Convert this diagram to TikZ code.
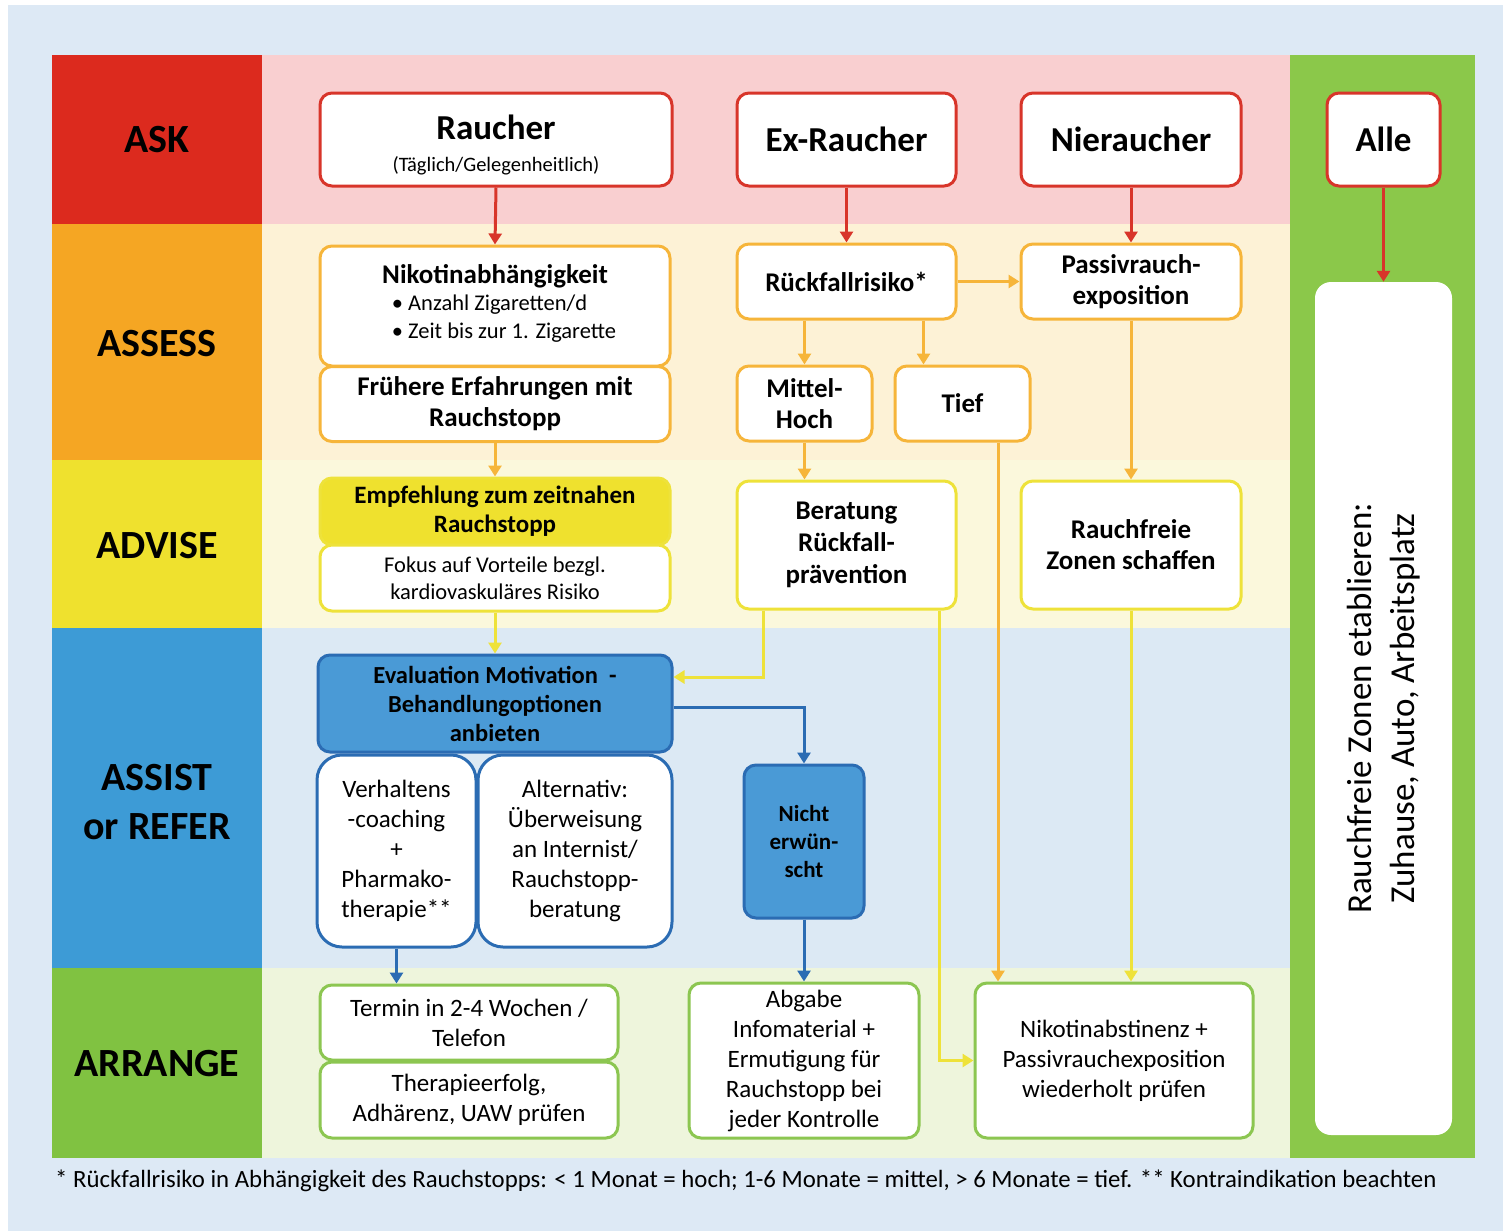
\documentclass[tikz,border=0pt]{standalone}
\usepackage{fontspec}
\setmainfont{Carlito}
\usetikzlibrary{arrows.meta}
\definecolor{bgblue}{HTML}{DDE9F5}
\definecolor{askred}{HTML}{DC2A1E}
\definecolor{askrow}{HTML}{F9CFD0}
\definecolor{assessor}{HTML}{F5A623}
\definecolor{assessrow}{HTML}{FDF2D6}
\definecolor{advisey}{HTML}{EFE12E}
\definecolor{adviserow}{HTML}{FBF8DC}
\definecolor{assistblue}{HTML}{3D9BD6}
\definecolor{assistrow}{HTML}{DCE9F4}
\definecolor{arrgreen}{HTML}{80C241}
\definecolor{arrrow}{HTML}{EEF5DC}
\definecolor{colgreen}{HTML}{8BC84A}
\definecolor{nred}{HTML}{D8352A}
\definecolor{norange}{HTML}{F6B53A}
\definecolor{nyellow}{HTML}{EEE23A}
\definecolor{nblue}{HTML}{4A9AD6}
\definecolor{nbluedark}{HTML}{2B6CB3}
\definecolor{ngreen}{HTML}{8CC651}
\tikzset{
  base/.style={draw, rounded corners=12pt, fill=white, line width=3pt, align=center, inner sep=2pt},
  rbox/.style={base, draw=nred},
  obox/.style={base, draw=norange},
  ybox/.style={base, draw=nyellow},
  bbox/.style={base, draw=nbluedark},
  gbox/.style={base, draw=ngreen},
  arr/.style={line width=3pt, -{Triangle[length=11pt,width=13pt]}},
  lab/.style={font=\fontsize{40}{49}\selectfont\bfseries, align=center},
  fb/.style={font=\fontsize{27}{31}\selectfont\bfseries},
  fr/.style={font=\fontsize{25}{30}\selectfont},
  ftitle/.style={font=\fontsize{35}{38}\selectfont\bfseries},
}
\begin{document}
\begin{tikzpicture}[x=1pt,y=-1pt]
\useasboundingbox (0,0) rectangle (1503,1231);
\fill[white] (0,0) rectangle (1503,1231);
\fill[bgblue] (8,5) rectangle (1503,1231);
% rows
\fill[askrow] (262,55) rectangle (1290,224);
\fill[assessrow] (262,224) rectangle (1290,460);
\fill[adviserow] (262,460) rectangle (1290,628);
\fill[assistrow] (262,628) rectangle (1290,968);
\fill[arrrow] (262,968) rectangle (1290,1158);
\fill[askred] (52,55) rectangle (262,224);
\fill[assessor] (52,224) rectangle (262,460);
\fill[advisey] (52,460) rectangle (262,628);
\fill[assistblue] (52,628) rectangle (262,968);
\fill[arrgreen] (52,968) rectangle (262,1158);
\fill[colgreen] (1290,55) rectangle (1475,1158);
% labels
\node[lab] (lask) at (157,140) {ASK};
\node[lab] (lassess) at (157,344) {ASSESS};
\node[lab] (ladvise) at (157,546) {ADVISE};
\node[lab] (lassist) at (157,802) {ASSIST\\or REFER};
\node[lab] (larrange) at (157,1064) {ARRANGE};
% ASK
\node[rbox, minimum width=352pt, minimum height=93pt, font=\fontsize{20.5}{24}\selectfont] (raucher) at (496,139.5) {\rule{0pt}{36pt}{\fontsize{35}{38}\selectfont\bfseries Raucher}\\[8pt](Täglich/Gelegenheitlich)};
\node[rbox, ftitle, minimum width=219pt, minimum height=93pt] (exr) at (846.5,139.5) {Ex-Raucher};
\node[rbox, ftitle, minimum width=220pt, minimum height=93pt] (nier) at (1131,139.5) {Nieraucher};
\node[rbox, ftitle, minimum width=113pt, minimum height=93pt] (alle) at (1383.5,139.5) {Alle};
% ASSESS
\node[obox, minimum width=350pt, minimum height=120pt, font=\fontsize{22.5}{28}\selectfont] (nikotin) at (495,306) {{\fontsize{27}{28}\selectfont\bfseries Nikotinabhängigkeit}\\[2pt]\hspace*{18pt}\begin{tabular}{@{}l@{}}• Anzahl Zigaretten/d\\• Zeit bis zur 1. Zigarette\end{tabular}};
\node[obox, fb, minimum width=350pt, minimum height=75pt] (frueher) at (495,404) {Frühere Erfahrungen mit\\Rauchstopp};
\node[obox, fb, minimum width=219pt, minimum height=75pt] (rueck) at (846.5,281.5) {Rückfallrisiko*};
\node[obox, fb, minimum width=220pt, minimum height=75pt] (passiv) at (1131,281.5) {Passivrauch-\\exposition};
\node[obox, fb, minimum width=135pt, minimum height=75pt] (mittel) at (804.5,403.5) {Mittel-\\Hoch};
\node[obox, fb, minimum width=135pt, minimum height=75pt] (tief) at (962.5,403.5) {Tief};
% ADVISE
\node[ybox, fill=advisey, minimum width=350pt, minimum height=67pt, font=\fontsize{25}{29}\selectfont\bfseries] (empf) at (495,511.5) {Empfehlung zum zeitnahen\\Rauchstopp};
\node[ybox, minimum width=350pt, minimum height=66pt, font=\fontsize{22.5}{27}\selectfont] (fokus) at (495,578) {Fokus auf Vorteile bezgl.\\kardiovaskuläres Risiko};
\node[ybox, minimum width=219pt, minimum height=128pt, font=\fontsize{27}{32}\selectfont\bfseries] (berat) at (846.5,545) {Beratung\\Rückfall-\\prävention};
\node[ybox, fb, minimum width=220pt, minimum height=128pt] (rzs) at (1131,545) {Rauchfreie\\Zonen schaffen};
% ASSIST
\node[bbox, fill=nblue, minimum width=354pt, minimum height=97pt, font=\fontsize{24.5}{29}\selectfont\bfseries] (eval) at (495,703.5) {Evaluation Motivation~~-\\Behandlungoptionen\\anbieten};
\node[bbox, rounded corners=25pt, minimum width=159pt, minimum height=192pt, font=\fontsize{25}{30}\selectfont] (verh) at (396.5,851) {Verhaltens\\-coaching\\+\\Pharmako-\\therapie**};
\node[bbox, rounded corners=25pt, minimum width=194pt, minimum height=192pt, font=\fontsize{25}{30}\selectfont] (alt) at (575,851) {Alternativ:\\Überweisung\\an Internist/\\Rauchstopp-\\beratung};
\node[bbox, fill=nblue, minimum width=120pt, minimum height=153pt, font=\fontsize{23}{28}\selectfont\bfseries] (nicht) at (804,841.5) {Nicht\\erwün-\\scht};
% ARRANGE
\node[gbox, fr, minimum width=298pt, minimum height=75pt] (termin) at (469,1022.5) {Termin in 2-4 Wochen /\\Telefon};
\node[gbox, fr, minimum width=298pt, minimum height=76pt] (thera) at (469,1100) {Therapieerfolg,\\Adhärenz, UAW prüfen};
\node[gbox, fr, minimum width=230pt, minimum height=155pt] (abgabe) at (804,1060.5) {Abgabe\\Infomaterial +\\Ermutigung für\\Rauchstopp bei\\jeder Kontrolle};
\node[gbox, fr, minimum width=278pt, minimum height=155pt] (nikabs) at (1114,1060.5) {Nikotinabstinenz +\\Passivrauchexposition\\wiederholt prüfen};
% right column
\node[draw=none, fill=white, rounded corners=16pt, minimum width=137pt, minimum height=853pt] (etab) at (1383.5,708.5) {};
\node[rotate=90, align=center, font=\fontsize{35}{43}\selectfont] (etabtxt) at (etab.center) {Rauchfreie Zonen etablieren:\\Zuhause, Auto, Arbeitsplatz};
% footer
\node[anchor=west, inner sep=0pt, font=\fontsize{24.8}{28}\selectfont] (foot) at (55,1181) {* Rückfallrisiko in Abhängigkeit des Rauchstopps: < 1 Monat = hoch; 1-6 Monate = mittel, > 6 Monate = tief. ** Kontraindikation beachten};
% coordinates
\coordinate (y677) at (0,677);
\coordinate (y707) at (0,707);
\coordinate (ptief) at ([xshift=-34pt]rueck.south east);
\coordinate (ptief2) at ([xshift=35.5pt]tief.south);
\coordinate (pber1) at ([xshift=28pt]berat.south west);
\coordinate (pber2) at ([xshift=-18pt]berat.south east);
% arrows
\draw[arr, nred] (raucher.south) -- (nikotin.north);
\draw[arr, nred] (exr.south) -- (rueck.north);
\draw[arr, nred] (nier.south) -- (passiv.north);
\draw[arr, nred] (alle.south) -- (etab.north);
\draw[arr, norange] (rueck.east) -- (passiv.west);
\draw[arr, norange] (mittel.north |- rueck.south) -- (mittel.north);
\draw[arr, norange] (ptief) -- (ptief |- tief.north);
\draw[arr, norange] (frueher.south) -- (empf.north);
\draw[arr, norange] (mittel.south) -- (mittel.south |- berat.north);
\draw[arr, norange] (passiv.south) -- (rzs.north);
\draw[arr, norange] (ptief2) -- (ptief2 |- nikabs.north);
\draw[arr, nyellow] (fokus.south) -- (eval.north);
\draw[arr, nyellow] (pber1) |- (eval.east |- y677);
\draw[arr, nyellow] (pber2) |- (nikabs.west);
\draw[arr, nyellow] (rzs.south) -- (rzs.south |- nikabs.north);
\draw[arr, nbluedark] (eval.east |- y707) -| (nicht.north);
\draw[arr, nbluedark] (verh.south) -- (verh.south |- termin.north);
\draw[arr, nbluedark] (nicht.south) -- (abgabe.north);
\end{tikzpicture}
\end{document}
